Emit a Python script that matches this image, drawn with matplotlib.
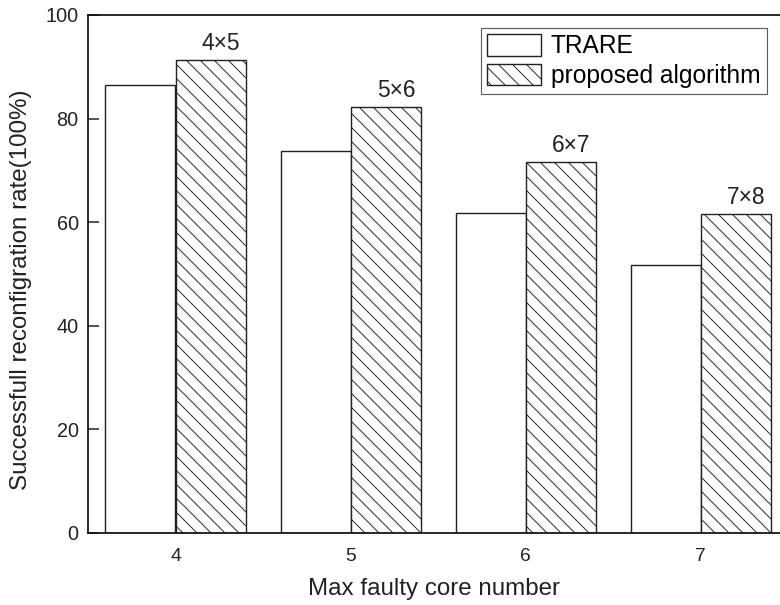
import matplotlib
matplotlib.use("Agg")
import matplotlib.pyplot as plt
import numpy as np

categories = [4, 5, 6, 7]
trare = [86.5, 73.8, 61.7, 51.7]
proposed = [91.4, 82.2, 71.6, 61.6]
sizes = ["4×5", "5×6", "6×7", "7×8"]

DPI = 84
plt.rcParams['font.family'] = ['Liberation Sans', 'DejaVu Sans']
plt.rcParams['hatch.linewidth'] = 0.8

fig = plt.figure(figsize=(780 / DPI, 605 / DPI), dpi=DPI)
ax = fig.add_axes([88 / 780, 72 / 605, 1 - 88 / 780, (533 - 15) / 605])

x = np.array(categories, dtype=float)
w = 0.4
ax.bar(x - w / 2, trare, width=w, facecolor='white', edgecolor='#222222',
       linewidth=1.2, label='TRARE')
ax.bar(x + w / 2, proposed, width=w, facecolor='white', edgecolor='#222222',
       linewidth=1.2, hatch='\\\\', label='proposed algorithm')

for xi, v, s in zip(x, proposed, sizes):
    ax.text(xi + w / 2 + 0.06, v + 1.9, s, ha='center', va='baseline',
            fontsize=19.5, color='#222222')

ax.set_xlim(3.5, 3.5 + (780 - 88) / 175)
ax.set_ylim(0, 100)
ax.set_xticks(categories)
ax.set_yticks([0, 20, 40, 60, 80, 100])
ax.tick_params(axis='x', length=0, labelsize=16.5, pad=13, colors='#222222')
ax.tick_params(axis='y', direction='in', length=9, width=1.3, labelsize=17,
               pad=8, colors='#222222')
for sp in ['left', 'bottom', 'top']:
    ax.spines[sp].set_linewidth(1.5)
    ax.spines[sp].set_color('#111111')
ax.spines['right'].set_visible(False)

ax.set_xlabel('Max faulty core number', fontsize=20.7, labelpad=11, color='#222222')
ax.set_ylabel('Successfull reconfigration rate(100%)', fontsize=20.7,
              color='#222222')
ax.yaxis.set_label_coords(-0.081, (533 - 290) / 518)

leg = ax.legend(loc='upper left', bbox_to_anchor=((481 - 88) / 692, 1 - 12.7 / 518),
                fontsize=21, frameon=True, fancybox=False, edgecolor='#333333',
                handlelength=2.2, handleheight=1.0, handletextpad=0.4,
                borderpad=0.25, labelspacing=0.22, borderaxespad=0)
leg.get_frame().set_linewidth(1.0)

fig.savefig('out.png', dpi=DPI)
